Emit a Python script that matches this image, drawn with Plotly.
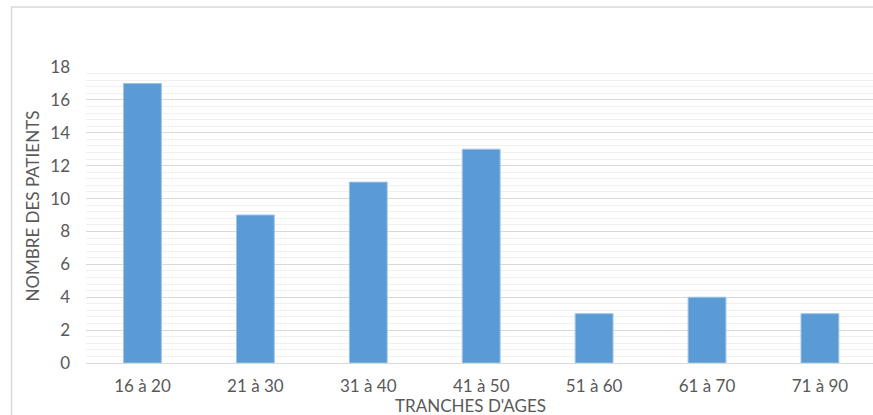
import plotly.graph_objects as go

# Age brackets and patient counts
categories = ["16 à 20", "21 à 30", "31 à 40", "41 à 50", "51 à 60", "61 à 70", "71 à 90"]
patients = [17, 9, 11, 13, 3, 4, 3]
y_ticks = [0, 2, 4, 6, 8, 10, 12, 14, 16, 18]

BAR = "#5B9BD5"
TXT = "#595959"
FONT = "Lato"

fig = go.Figure(
    go.Bar(
        x=list(range(len(categories))),
        y=patients,
        marker=dict(color=BAR, line=dict(color="#9DC3E6", width=1)),
        width=0.335,
        hoverinfo="skip",
    )
)

fig.update_layout(
    width=873,
    height=415,
    margin=dict(l=86, r=0, t=67, b=52),
    paper_bgcolor="white",
    plot_bgcolor="white",
    showlegend=False,
    font=dict(family=FONT, color=TXT, size=17),
)

fig.update_xaxes(
    range=[-0.5, 6.47],
    tickvals=list(range(len(categories))),
    ticktext=categories,
    showgrid=False,
    zeroline=False,
    showline=False,
    ticks="",
    ticklabelstandoff=11,
    tickfont=dict(size=17, color=TXT),
)

fig.update_yaxes(
    range=[0, 18],
    tickvals=y_ticks,
    showgrid=True,
    gridcolor="#d9d9d9",
    gridwidth=1,
    zeroline=True,
    zerolinecolor="#d9d9d9",
    zerolinewidth=1,
    showline=False,
    ticks="",
    ticklabelstandoff=15,
    tickfont=dict(size=17, color=TXT),
    minor=dict(dtick=0.4, tick0=0, showgrid=True, gridcolor="#f0f0f0", gridwidth=1),
)

# Outer chart frame (partially clipped at right/bottom)
fig.add_shape(
    type="rect", xref="paper", yref="paper",
    x0=-0.0946, x1=1.1, y0=-0.3, y1=1.2027,
    line=dict(color="#d9d9d9", width=1.5), fillcolor="rgba(0,0,0,0)", layer="below",
)

# Axis titles
fig.add_annotation(
    text="NOMBRE DES PATIENTS", xref="paper", yref="paper",
    x=-0.068, y=0.53, xanchor="center", yanchor="middle",
    textangle=-90, showarrow=False,
    font=dict(family=FONT, size=17, color=TXT),
)
fig.add_annotation(
    text="TRANCHES D'AGES", xref="paper", yref="paper",
    x=0.488, y=-0.142, xanchor="center", yanchor="middle", showarrow=False,
    font=dict(family=FONT, size=17, color=TXT),
)

fig.write_html("out.html")
